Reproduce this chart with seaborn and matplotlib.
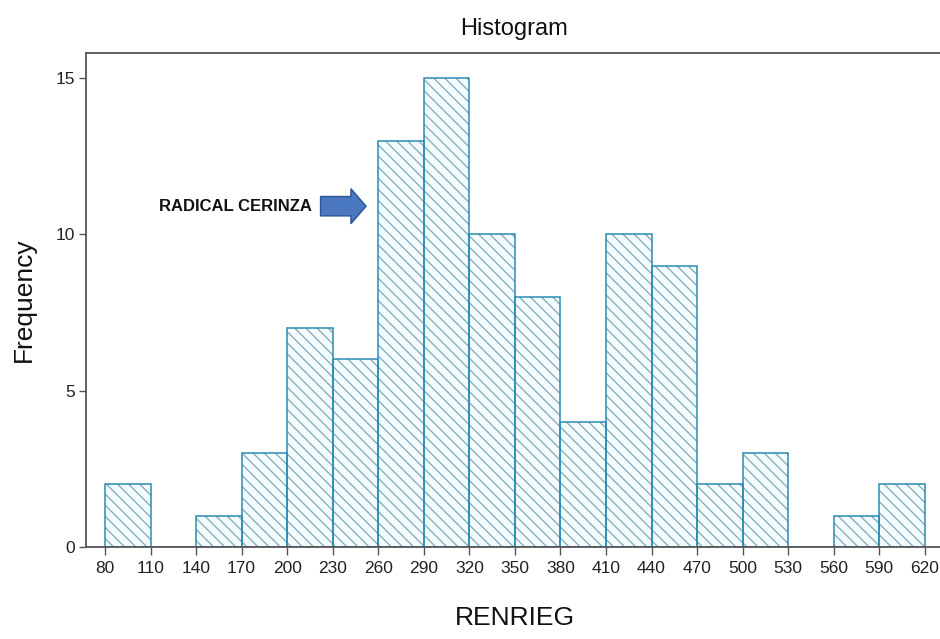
import numpy as np
import pandas as pd
import matplotlib
matplotlib.use("Agg")
import matplotlib.pyplot as plt
from matplotlib.patches import FancyArrow
import seaborn as sns

# RENRIEG histogram: bin edges every 30 units and the count in each bin
bin_edges = [80, 110, 140, 170, 200, 230, 260, 290, 320, 350, 380,
             410, 440, 470, 500, 530, 560, 590, 620]
frequencies = [2, 0, 1, 3, 7, 6, 13, 15, 10, 8, 4, 10, 9, 2, 3, 0, 1, 2]
tick_values = [80, 110, 140, 170, 200, 230, 260, 290, 320, 350, 380,
               410, 440, 470, 500, 530, 560, 590, 620]
y_ticks = [0, 5, 10, 15]
annotation_text = "RADICAL CERINZA"

centers = [(a + b) / 2 for a, b in zip(bin_edges[:-1], bin_edges[1:])]
df = pd.DataFrame({"RENRIEG": centers, "count": frequencies})

sns.set_theme(style="white")
plt.rcParams["font.family"] = ["Liberation Sans", "DejaVu Sans"]
plt.rcParams["hatch.linewidth"] = 0.9

fig = plt.figure(figsize=(9.40, 6.39), dpi=100)
ax = fig.add_axes([86 / 940, 1 - 547 / 639, (943 - 86) / 940, (547 - 53) / 639])

edge_blue = "#2a8cb4"
hatch_col = "#7fa9b8"

# hatched fill
sns.histplot(data=df, x="RENRIEG", weights="count", bins=bin_edges, ax=ax,
             color="#f4fbfd", edgecolor=hatch_col, linewidth=0, alpha=1.0)
for p in ax.patches:
    p.set_hatch("\\\\\\")
    p.set_linewidth(0)
# bar outlines
sns.histplot(data=df, x="RENRIEG", weights="count", bins=bin_edges, ax=ax,
             fill=False, color=edge_blue, edgecolor=edge_blue, linewidth=1.1)

ax.set_xlim(67.5, 632)
ax.set_ylim(0, 15.8)
ax.set_xticks(tick_values)
ax.set_yticks(y_ticks)
ax.tick_params(axis="x", labelsize=12.5, length=6, width=1.0, color="#555555",
               direction="out", bottom=True, pad=4, labelcolor="#222222")
ax.tick_params(axis="y", labelsize=12.5, length=5, width=1.0, color="#555555",
               direction="out", left=True, pad=3, labelcolor="#222222")

for side in ["left", "top", "bottom"]:
    ax.spines[side].set_visible(True)
    ax.spines[side].set_color("#555555")
    ax.spines[side].set_linewidth(1.3)
ax.spines["right"].set_visible(False)

ax.set_xlabel("RENRIEG", fontsize=19, labelpad=22, color="#111111")
ax.set_ylabel("Frequency", fontsize=19, labelpad=14, color="#111111")
ax.set_title("Histogram", fontsize=17, pad=13, color="#111111")

# annotation arrow pointing at the 260-290 bin
arrow = FancyArrow(222, 10.9, 30, 0, width=0.62, head_width=1.12,
                   head_length=10, length_includes_head=True,
                   facecolor="#4a78c0", edgecolor="#2c5594", linewidth=1.0,
                   zorder=5)
ax.add_patch(arrow)
ax.text(216, 10.9, annotation_text, fontsize=12, fontweight="bold",
        ha="right", va="center", color="#111111")

fig.savefig("out.png", dpi=100)
